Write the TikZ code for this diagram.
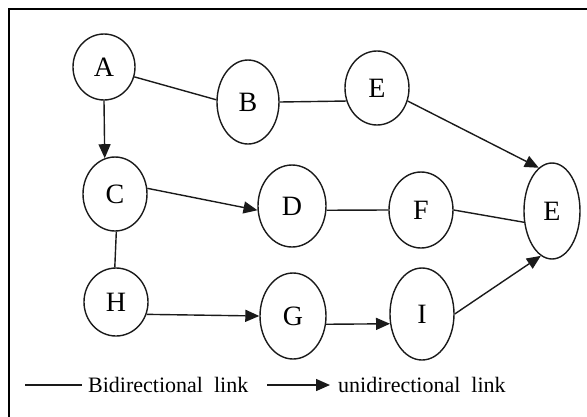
\documentclass[tikz,border=0pt]{standalone}
\usepackage{fontspec}
\setmainfont{Liberation Serif}
\usetikzlibrary{shapes.geometric,arrows.meta}
\definecolor{ink}{HTML}{1A1A1A}
\tikzset{
  vertex/.style={ellipse, draw=ink, line width=1.4pt, inner sep=0pt,
                 font=\fontsize{28}{30}\selectfont},
  bilink/.style={draw=ink, line width=1.4pt},
  unilink/.style={draw=ink, line width=1.4pt,
                  -{Triangle[length=14pt,width=12pt]}},
  legendtext/.style={anchor=west, inner sep=0pt,
                     font=\fontsize{22}{24}\selectfont}
}
\begin{document}
\begin{tikzpicture}[x=1pt,y=-1pt]
  \useasboundingbox (0,0) rectangle (587,416);
  % frame
  \draw[line width=2.6pt] (588,9) -- (9,9) -- (9,418);

  % vertices
  \node[vertex, minimum width=62pt, minimum height=66pt] (A)  at (104,67)  {A};
  \node[vertex, minimum width=62pt, minimum height=84pt] (B)  at (248,102) {B};
  \node[vertex, minimum width=64pt, minimum height=74pt] (E1) at (377,88)  {E};
  \node[vertex, minimum width=64pt, minimum height=74pt] (C)  at (115,194) {C};
  \node[vertex, minimum width=68pt, minimum height=82pt] (D)  at (292,206) {D};
  \node[vertex, minimum width=64pt, minimum height=76pt] (F)  at (421,210) {F};
  \node[vertex, minimum width=56pt, minimum height=96pt] (E2) at (552,211) {E};
  \node[vertex, minimum width=64pt, minimum height=68pt] (H)  at (116,302) {H};
  \node[vertex, minimum width=66pt, minimum height=86pt] (G)  at (293,316) {G};
  \node[vertex, minimum width=64pt, minimum height=92pt] (I)  at (422,314) {I};

  % links
  \draw[bilink]  (A.-18)  -- (B.176);
  \draw[bilink]  (B.east) -- (E1.203);
  \draw[unilink] (E1.-23) -- (E2.107);
  \draw[unilink] (A.-90)  -- (C.106);
  \draw[unilink] (C.10)   -- (D.187);
  \draw[bilink]  (C.-88)  -- (H.92);
  \draw[bilink]  (D.-7)   -- (F.west);
  \draw[bilink]  (F.east) -- (E2.202);
  \draw[unilink] (H.-22)  -- (G.west);
  \draw[unilink] (G.-14)  -- (I.197);
  \draw[unilink] (I.east) -- (E2.256);

  % legend
  \coordinate (bistart) at (25,385);
  \coordinate (biend) at (82,385);
  \coordinate (unistart) at (267,385);
  \coordinate (uniend) at (330,385);
  \node[legendtext] (bitext)  at (88,385)  {Bidirectional\hspace{0.5em}link};
  \node[legendtext] (unitext) at (338,385) {unidirectional\hspace{0.5em}link};
  \draw[bilink]  (bistart)  -- (biend);
  \draw[unilink] (unistart) -- (uniend);
\end{tikzpicture}
\end{document}
